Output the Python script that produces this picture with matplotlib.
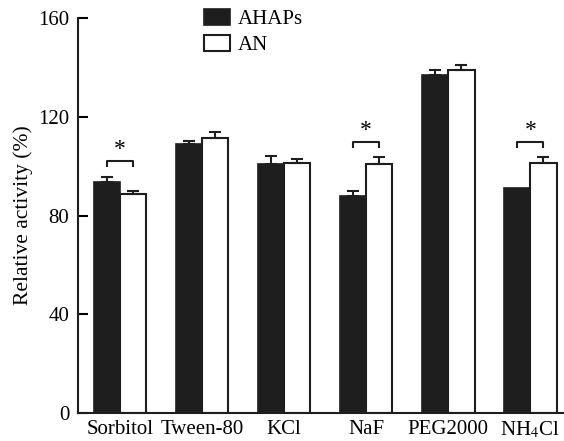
import numpy as np
import matplotlib.pyplot as plt

plt.rcParams['font.family'] = ['Liberation Serif', 'DejaVu Serif']
plt.rcParams['mathtext.fontset'] = 'stix'

categories = ['Sorbitol', 'Tween-80', 'KCl', 'NaF', 'PEG2000', 'NH$_4$Cl']
ahaps = [93.5, 108.9, 100.8, 87.9, 137.0, 91.0]
ahaps_err = [2.1, 1.2, 3.2, 2.1, 2.0, 0.0]
an = [88.7, 111.3, 101.2, 100.8, 139.0, 101.2]
an_err = [1.4, 2.4, 1.8, 2.8, 2.0, 2.4]
signif = [0, 3, 5]  # groups marked with *

x = np.arange(len(categories))
w = 0.32
ink = '#1e1e1e'

fig = plt.figure(figsize=(5.64, 4.41), dpi=100)
ax = fig.add_axes([0.138, 0.0635, 0.862, 0.8955])

ax.bar(x - w/2, ahaps, w, color=ink, edgecolor=ink, linewidth=1.2, label='AHAPs')
ax.bar(x + w/2, an, w, color='white', edgecolor=ink, linewidth=1.5, label='AN')
has_err = np.array(ahaps_err) > 0
ax.errorbar((x - w/2)[has_err], np.array(ahaps)[has_err],
            yerr=[np.zeros(has_err.sum()), np.array(ahaps_err)[has_err]],
            fmt='none', ecolor=ink, elinewidth=1.5, capsize=4.5, capthick=1.5)
ax.errorbar(x + w/2, an, yerr=[np.zeros(6), an_err], fmt='none', ecolor=ink,
            elinewidth=1.5, capsize=4.5, capthick=1.5)

for i in signif:
    yb = 102 if i == 0 else 109.7
    ax.plot([i - w/2, i - w/2, i + w/2, i + w/2], [yb - 1.8, yb, yb, yb - 1.8],
            color=ink, lw=1.5)
    ax.text(i, yb + 0.3, '*', ha='center', va='bottom', fontsize=17)

ax.set_xlim(-0.512, 5.41)
ax.set_ylim(0, 160)
ax.set_yticks([0, 40, 80, 120, 160])
ax.set_xticks(x)
ax.set_xticklabels(categories)
ax.tick_params(axis='y', direction='in', length=7, width=1.5, labelsize=15, pad=6)
ax.tick_params(axis='x', length=0, labelsize=15, pad=5)
ax.set_ylabel('Relative activity (%)', fontsize=15.5, labelpad=4)
for s in ['top', 'right']:
    ax.spines[s].set_visible(False)
for s in ['left', 'bottom']:
    ax.spines[s].set_linewidth(1.5)
    ax.spines[s].set_color(ink)

ax.legend(loc='upper left', bbox_to_anchor=(0.22, 1.07), frameon=False, fontsize=15,
          handlelength=1.25, handleheight=0.8, handletextpad=0.4, labelspacing=0.25)

fig.savefig('out.png', dpi=100)
